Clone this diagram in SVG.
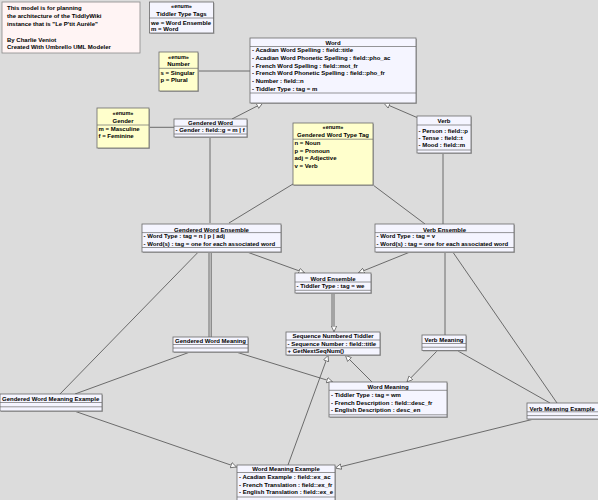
<svg xmlns="http://www.w3.org/2000/svg" width="598" height="500" viewBox="0 0 598 500">
<style>
text{font-family:"Liberation Sans",Arial,sans-serif;font-size:6px;font-weight:bold;fill:#000}
.t{text-anchor:middle}
.st{font-size:5.5px}
.cls{fill:#f5f5ff;stroke:#6a6a6a;stroke-width:.8}
.enm{fill:#ffffcc;stroke:#6a6a6a;stroke-width:.8}
.note{fill:#fff4f4;stroke:#8a8a8a;stroke-width:.8}
.sh{fill:#a9a9a9}
.dv{stroke:#6a6a6a;stroke-width:.7}
#connectors path{fill:none;stroke:#4e4e4e;stroke-width:.8}
.g{marker-end:url(#gen)}
</style>
<defs>
<marker id="gen" markerUnits="userSpaceOnUse" markerWidth="8" markerHeight="8" refX="6" refY="3" orient="auto">
<path d="M0.3,0.3 L6,3 L0.3,5.7 Z" fill="#ffffff" stroke="#4e4e4e" stroke-width=".7"/>
</marker>
</defs>
<rect width="598" height="500" fill="#dcdcdc"/>

<g id="connectors">
<path d="M198,71 H250"/>
<path d="M149,127.3 H174"/>
<path class="g" d="M232,119 L262.5,103.3"/>
<path class="g" d="M417,117.5 L384,103.3"/>
<path d="M210,137 V223"/>
<path d="M293,184 L229,223"/>
<path d="M373,185 L425,224"/>
<path d="M443,153 V224"/>
<path class="g" d="M247,252 L304.5,272.8"/>
<path class="g" d="M410,252 L358.5,272.8"/>
<path d="M332,293.3 V326"/>
<path class="g" d="M334,293.3 V331.8"/>
<path d="M209,252.3 V337"/>
<path d="M211.2,252.3 V337"/>
<path d="M198,252.3 L60,394"/>
<path d="M453,252.3 L557,403"/>
<path d="M445,252.3 V335"/>
<path d="M190,352 L75,394"/>
<path class="g" d="M236,352 L332.5,381.8"/>
<path class="g" d="M372,382 L345.5,355.5"/>
<path class="g" d="M288,465 L328,355.5"/>
<path class="g" d="M437,351 L407,381.8"/>
<path d="M458,351 L550,403"/>
<path class="g" d="M532,419.5 L335.5,468"/>
<path class="g" d="M75,411.3 L236.5,467"/>
</g>

<g id="note">
<rect class="note" x="2" y="2" width="138" height="51"/>
<text x="7" y="9.5">This model is for planning</text>
<text x="7" y="17.5">the architecture of the TiddlyWiki</text>
<text x="7" y="25.5">instance that is "Le P'tit Aurèle"</text>
<text x="7" y="41.5">By Charlie Veniot</text>
<text x="7" y="49">Created With Umbrello UML Modeler</text>
</g>

<g id="tiddler-type-tags">
<rect class="sh" x="150.5" y="3" width="64" height="31"/>
<rect class="cls" x="149.5" y="2" width="64" height="31"/>
<text class="t st" x="181.5" y="7.6">«enum»</text>
<text class="t" x="181.5" y="16.1">Tiddler Type Tags</text>
<line class="dv" x1="149.5" y1="18" x2="213.5" y2="18"/>
<text x="151" y="24.5">we = Word Ensemble</text>
<text x="151" y="31.1">m = Word</text>
</g>

<g id="number">
<rect class="sh" x="160" y="53" width="39" height="39"/>
<rect class="enm" x="159" y="52" width="39" height="39"/>
<text class="t st" x="178.5" y="58.8">«enum»</text>
<text class="t" x="178.5" y="66.2">Number</text>
<line class="dv" x1="159" y1="68.3" x2="198" y2="68.3"/>
<text x="160.5" y="74.5">s = Singular</text>
<text x="160.5" y="81.5">p = Plural</text>
</g>

<g id="word">
<rect class="sh" x="251" y="39" width="166" height="65"/>
<rect class="cls" x="250" y="38" width="166" height="65"/>
<text class="t" x="333" y="44.6">Word</text>
<line class="dv" x1="250" y1="46.5" x2="416" y2="46.5"/>
<text x="252" y="52.2">- Acadian Word Spelling : field::title</text>
<text x="252" y="59.9">- Acadian Word Phonetic Spelling : field::pho_ac</text>
<text x="252" y="67.6">- French Word Spelling : field::mot_fr</text>
<text x="252" y="75.3">- French Word Phonetic Spelling : field::pho_fr</text>
<text x="252" y="83">- Number : field::n</text>
<text x="252" y="90.7">- Tiddler Type : tag = m</text>
<line class="dv" x1="250" y1="93" x2="416" y2="93"/>
</g>

<g id="gender">
<rect class="sh" x="98" y="109" width="52" height="40"/>
<rect class="enm" x="97" y="108" width="52" height="40"/>
<text class="t st" x="123" y="115.3">«enum»</text>
<text class="t" x="123" y="122.8">Gender</text>
<line class="dv" x1="97" y1="125" x2="149" y2="125"/>
<text x="98.5" y="130.5">m = Masculine</text>
<text x="98.5" y="138">f = Feminine</text>
</g>

<g id="gendered-word">
<rect class="sh" x="175" y="120" width="73" height="18"/>
<rect class="cls" x="174" y="119" width="73" height="18"/>
<text class="t" x="210.5" y="125">Gendered Word</text>
<line class="dv" x1="174" y1="126.2" x2="247" y2="126.2"/>
<text x="175.5" y="132">- Gender : field::g = m | f</text>
<line class="dv" x1="174" y1="134" x2="247" y2="134"/>
</g>

<g id="gendered-word-type-tag">
<rect class="sh" x="294" y="124" width="80" height="62"/>
<rect class="enm" x="293" y="123" width="80" height="62"/>
<text class="t st" x="333" y="129">«enum»</text>
<text class="t" x="333" y="137.2">Gendered Word Type Tag</text>
<line class="dv" x1="293" y1="139.2" x2="373" y2="139.2"/>
<text x="294.5" y="145.3">n = Noun</text>
<text x="294.5" y="152.8">p = Pronoun</text>
<text x="294.5" y="160.4">adj = Adjective</text>
<text x="294.5" y="167.9">v = Verb</text>
</g>

<g id="verb">
<rect class="sh" x="418" y="117" width="54" height="37"/>
<rect class="cls" x="417" y="116" width="54" height="37"/>
<text class="t" x="444" y="123.2">Verb</text>
<line class="dv" x1="417" y1="125" x2="471" y2="125"/>
<text x="418.5" y="133">- Person : field::p</text>
<text x="418.5" y="140">- Tense : field::t</text>
<text x="418.5" y="146.8">- Mood : field::m</text>
<line class="dv" x1="417" y1="150" x2="471" y2="150"/>
</g>

<g id="gendered-word-ensemble">
<rect class="sh" x="143" y="225" width="139" height="28"/>
<rect class="cls" x="142" y="224" width="139" height="28"/>
<text class="t" x="211.5" y="231.5">Gendered Word Ensemble</text>
<line class="dv" x1="142" y1="232.6" x2="281" y2="232.6"/>
<text x="143.5" y="238">- Word Type : tag = n | p | adj</text>
<text x="143.5" y="245.5">- Word(s) : tag = one for each associated word</text>
<line class="dv" x1="142" y1="247.5" x2="281" y2="247.5"/>
</g>

<g id="verb-ensemble">
<rect class="sh" x="376" y="225" width="139" height="28"/>
<rect class="cls" x="375" y="224" width="139" height="28"/>
<text class="t" x="444.5" y="231.5">Verb Ensemble</text>
<line class="dv" x1="375" y1="232.6" x2="514" y2="232.6"/>
<text x="376.5" y="238">- Word Type : tag = v</text>
<text x="376.5" y="245.5">- Word(s) : tag = one for each associated word</text>
<line class="dv" x1="375" y1="247.5" x2="514" y2="247.5"/>
</g>

<g id="word-ensemble">
<rect class="sh" x="296" y="274" width="76" height="20"/>
<rect class="cls" x="295" y="273" width="76" height="20"/>
<text class="t" x="333" y="280.5">Word Ensemble</text>
<line class="dv" x1="295" y1="282" x2="371" y2="282"/>
<text x="296.5" y="288">- Tiddler Type : tag = we</text>
<line class="dv" x1="295" y1="290.3" x2="371" y2="290.3"/>
</g>

<g id="sequence-numbered-tiddler">
<rect class="sh" x="287" y="333" width="94" height="23"/>
<rect class="cls" x="286" y="332" width="94" height="23"/>
<text class="t" x="333" y="338.3">Sequence Numbered Tiddler</text>
<line class="dv" x1="286" y1="340" x2="380" y2="340"/>
<text x="287.5" y="346.4">- Sequence Number : field::title</text>
<line class="dv" x1="286" y1="347.8" x2="380" y2="347.8"/>
<text x="287.5" y="353.3">+ GetNextSeqNum()</text>
</g>

<g id="gendered-word-meaning">
<rect class="sh" x="174" y="338" width="75" height="15"/>
<rect class="cls" x="173" y="337" width="75" height="15"/>
<text class="t" x="210.5" y="343">Gendered Word Meaning</text>
<line class="dv" x1="173" y1="344.5" x2="248" y2="344.5"/>
<line class="dv" x1="173" y1="348" x2="248" y2="348"/>
</g>

<g id="verb-meaning">
<rect class="sh" x="423" y="336" width="44" height="15.5"/>
<rect class="cls" x="422" y="335" width="44" height="15.5"/>
<text class="t" x="444" y="342.2">Verb Meaning</text>
<line class="dv" x1="422" y1="343.5" x2="466" y2="343.5"/>
<line class="dv" x1="422" y1="347.2" x2="466" y2="347.2"/>
</g>

<g id="gendered-word-meaning-example">
<rect class="sh" x="1" y="395" width="102" height="17"/>
<rect class="cls" x="0" y="394" width="102" height="17"/>
<text x="2" y="401.2">Gendered Word Meaning Example</text>
<line class="dv" x1="0" y1="402.5" x2="102" y2="402.5"/>
<line class="dv" x1="0" y1="406.8" x2="102" y2="406.8"/>
</g>

<g id="word-meaning">
<rect class="sh" x="330" y="383" width="118" height="35"/>
<rect class="cls" x="329" y="382" width="118" height="35"/>
<text class="t" x="388" y="389">Word Meaning</text>
<line class="dv" x1="329" y1="390.3" x2="447" y2="390.3"/>
<text x="331" y="396.5">- Tiddler Type : tag = wm</text>
<text x="331" y="404.5">- French Description : field::desc_fr</text>
<text x="331" y="412.2">- English Description : desc_en</text>
<line class="dv" x1="329" y1="414.8" x2="447" y2="414.8"/>
</g>

<g id="verb-meaning-example">
<rect class="sh" x="528" y="404" width="75" height="16"/>
<rect class="cls" x="527" y="403" width="75" height="16"/>
<text x="529.5" y="410.5">Verb Meaning Example</text>
<line class="dv" x1="527" y1="411.8" x2="598" y2="411.8"/>
<line class="dv" x1="527" y1="415.6" x2="598" y2="415.6"/>
</g>

<g id="word-meaning-example">
<rect class="sh" x="238" y="466" width="98" height="40"/>
<rect class="cls" x="237" y="465" width="98" height="40"/>
<text class="t" x="286" y="471.2">Word Meaning Example</text>
<line class="dv" x1="237" y1="472.5" x2="335" y2="472.5"/>
<text x="239" y="479">- Acadian Example : field::ex_ac</text>
<text x="239" y="486.6">- French Translation : field::ex_fr</text>
<text x="239" y="494.4">- English Translation : field::ex_e</text>
<line class="dv" x1="237" y1="497" x2="335" y2="497"/>
</g>
</svg>
